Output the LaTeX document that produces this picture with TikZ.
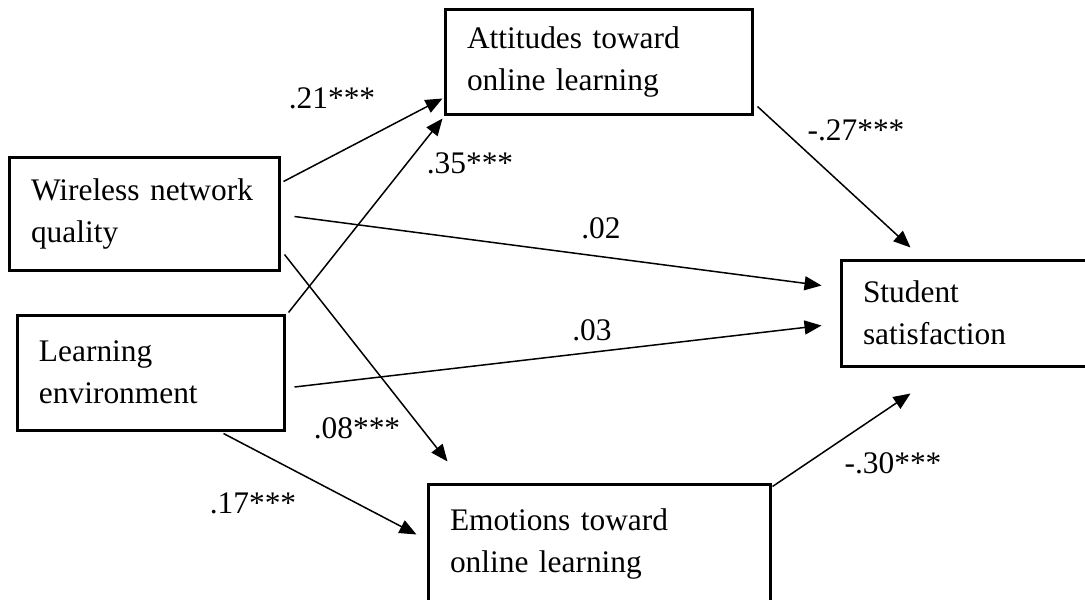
\documentclass[tikz,border=0pt]{standalone}
\usepackage{fontspec}
\setmainfont{Liberation Serif}
\usetikzlibrary{arrows.meta, calc}

\begin{document}
\begin{tikzpicture}[
  x=0.5pt, y=-0.5pt,
  >={Triangle[length=8.5pt, width=7pt]},
  varbox/.style={
    draw, line width=1.5pt, align=left, inner xsep=11pt, inner ysep=0pt,
    font=\fontsize{15.7}{21}\selectfont
  },
  arr/.style={->, line width=0.75pt},
  lbl/.style={font=\fontsize{15.7}{20}\selectfont, inner sep=0pt},
]

% Frame
\useasboundingbox (0,0) rectangle (1085,599);
\clip (0,0) rectangle (1085,599);

% =============================================
% Variables
% =============================================
\node[varbox, text width=113pt, minimum height=56.5pt] (wireless) at (144,213.5)
  {Wireless network\\quality};

\node[varbox, text width=111.5pt, minimum height=57.5pt] (learning) at (150.5,372.5)
  {Learning\\environment};

\node[varbox, text width=131.5pt, minimum height=52pt] (attitudes) at (598.5,62)
  {Attitudes toward\\online learning};

\node[varbox, text width=149pt, minimum height=60pt] (emotions) at (599,544)
  {Emotions toward\\online learning};

\node[varbox, text width=103.5pt, minimum height=53pt] (student) at (966.5,313)
  {Student\\satisfaction};

% =============================================
% Paths
% =============================================
\draw[arr] ($(wireless.north east)+(3,26)$) -- ($(attitudes.south west)+(-1,-17)$);
\draw[arr] ($(learning.north east)+(3,-1)$) -- ($(attitudes.south west)+(-1,3)$);
\draw[arr] ($(wireless.east)+(14,3)$) -- ($(student.north west)+(-18,27)$);
\draw[arr] ($(learning.east)+(9,14.5)$) -- ($(student.north west)+(-18,67)$);
\draw[arr] ($(wireless.south east)+(4,-17)$) -- ($(emotions.north west)+(21,-21)$);
\draw[arr] ($(learning.south east)+(-62,2)$) -- ($(emotions.north west)+(-10,52)$);
\draw[arr] ($(attitudes.south east)+(4,-9)$) -- ($(student.north west)+(71,-11)$);
\draw[arr] ($(emotions.north east)+(1,4)$) -- ($(student.south west)+(71,26)$);

% Coefficients
\node[lbl] (c-wa) at (332,98)  {.21***};
\node[lbl] (c-la) at (470,163) {.35***};
\node[lbl] (c-ws) at (601,228) {.02};
\node[lbl] (c-ls) at (592,330) {.03};
\node[lbl] (c-we) at (357,428) {.08***};
\node[lbl] (c-le) at (253,503) {.17***};
\node[lbl] (c-as) at (856,130) {-.27***};
\node[lbl] (c-es) at (893,463) {-.30***};

\end{tikzpicture}
\end{document}
